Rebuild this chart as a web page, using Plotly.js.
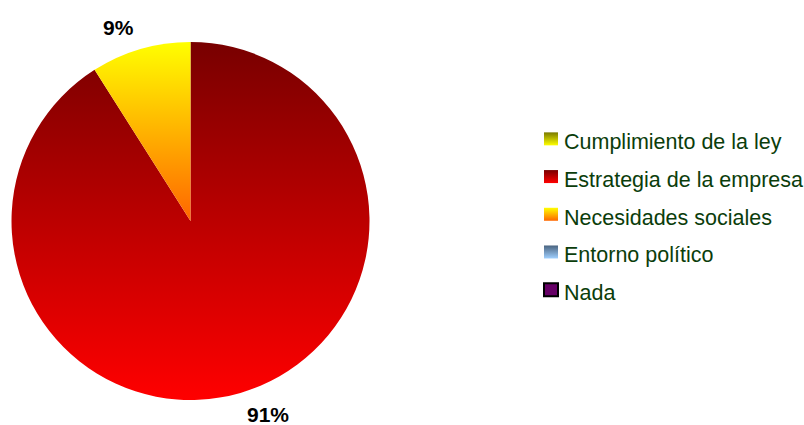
<!DOCTYPE html>
<html>
<head>
<meta charset="utf-8">
<script src="https://cdn.plot.ly/plotly-3.0.1.min.js"></script>
<style>html,body{margin:0;padding:0;background:#fff;}#chart{width:804px;height:425px;}</style>
</head>
<body>
<div id="chart"></div>
<script>
// Data
const categories = ["Cumplimiento de la ley", "Estrategia de la empresa", "Necesidades sociales", "Entorno político", "Nada"];
const values = [0, 91, 9, 0, 0];

// Styles (solid fallback colours and vertical gradient stops, top -> bottom)
const baseColors = ["#c0c000", "#c00000", "#ffb000", "#7799bb", "#660066"];
const gradStops = [
  ["#7a7a00", "#ffff00"],
  ["#780000", "#ff0000"],
  ["#ffff00", "#ff6600"],
  ["#4a6480", "#a0d0ff"],
  ["#660066", "#660066"]
];
const legendBorders = [null, null, null, null, "#000"];

const W = 804, H = 425;
const pieDomain = {x: [11/W, 370/W], y: [25/H, 383/H]};

// Percent labels placed just outside each slice's middle angle (computed from values)
const total = values.reduce((a, b) => a + b, 0);
const cxP = (pieDomain.x[0] + pieDomain.x[1]) / 2;
const cyP = (pieDomain.y[0] + pieDomain.y[1]) / 2;
const Rpx = 179.5;
const annotations = [];
let cum = 0;
values.forEach(v => {
  if (v > 0) {
    const th = (cum + v / 2) / total * 2 * Math.PI; // clockwise from 12 o'clock
    const k = 1.12;
    const s = Math.sin(th), c = Math.cos(th);
    annotations.push({
      xref: "paper", yref: "paper",
      x: cxP + k * Rpx * s / W + (s < 0 ? 2 : -2) / W,
      y: cyP + k * Rpx * c / H,
      text: Math.round(v / total * 100) + "%",
      showarrow: false,
      xanchor: s < 0 ? "right" : "left",
      yanchor: "middle",
      font: {family: "Liberation Sans, Arial, sans-serif", size: 21, weight: "bold", color: "#000"}
    });
  }
  cum += v;
});

const trace = {
  type: "pie",
  labels: categories.map(c => '<span style="font-size:21.5px">' + c + '</span>'),
  values: values,
  sort: false,
  direction: "clockwise",
  rotation: 0,
  textinfo: "none",
  marker: {colors: baseColors, line: {width: 0}},
  domain: pieDomain,
  hoverinfo: "label+percent",
  showlegend: true
};

const layout = {
  width: W, height: H,
  margin: {l: 0, r: 0, t: 0, b: 0, autoexpand: false},
  paper_bgcolor: "#fff",
  showlegend: true,
  annotations: annotations,
  legend: {
    x: 524/W, xanchor: "left",
    y: 1 - 115/H, yanchor: "top",
    font: {family: "Liberation Sans, Arial, sans-serif", size: 26.7, color: "#0b3d0b"},
    bgcolor: "rgba(0,0,0,0)",
    traceorder: "normal"
  }
};

Plotly.newPlot("chart", [trace], layout, {displayModeBar: false, staticPlot: true}).then(gd => {
  const svg = gd.querySelector("svg.main-svg");
  const ns = "http://www.w3.org/2000/svg";
  let defs = svg.querySelector("defs");
  if (!defs) { defs = document.createElementNS(ns, "defs"); svg.insertBefore(defs, svg.firstChild); }
  const toRgb = h => {
    const n = parseInt(h.slice(1), 16);
    return "rgb(" + ((n >> 16) & 255) + ", " + ((n >> 8) & 255) + ", " + (n & 255) + ")";
  };
  const map = {};
  gradStops.forEach((s, i) => {
    const g = document.createElementNS(ns, "linearGradient");
    g.setAttribute("id", "pg" + i);
    g.setAttribute("x1", "0"); g.setAttribute("y1", "0");
    g.setAttribute("x2", "0"); g.setAttribute("y2", "1");
    [[0, s[0]], [1, s[1]]].forEach(([o, c]) => {
      const st = document.createElementNS(ns, "stop");
      st.setAttribute("offset", o);
      st.setAttribute("stop-color", c);
      g.appendChild(st);
    });
    defs.appendChild(g);
    map[toRgb(baseColors[i])] = i;
  });
  gd.querySelectorAll("path.surface, path.legendpie").forEach(p => {
    const i = map[p.style.fill];
    if (i === undefined) return;
    p.style.fill = "url(#pg" + i + ")";
    if (p.classList.contains("legendpie")) {
      // Legend swatch: slightly wider box, closer to its label
      p.setAttribute("d", "M-7,-6.5H7V6.5H-7Z");
      p.setAttribute("transform", ((p.getAttribute("transform") || "") + " translate(7,0)").trim());
      if (legendBorders[i]) {
        p.style.stroke = legendBorders[i];
        p.style.strokeWidth = "2px";
      }
    }
  });
});
</script>
</body>
</html>
